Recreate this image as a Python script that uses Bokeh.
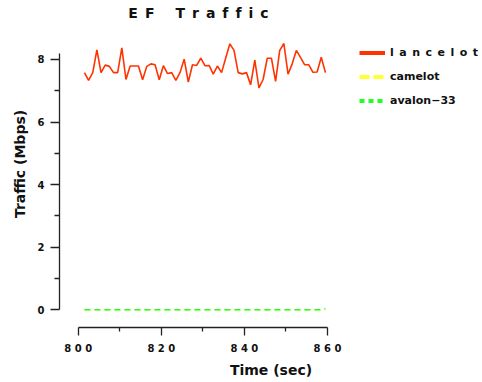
from bokeh.plotting import figure
from bokeh.models import (Range1d, FixedTicker, Legend, LegendItem,
                          ColumnDataSource, Label)
from bokeh.embed import file_html
from bokeh.resources import INLINE

time_sec = [801.5 + i for i in range(59)]
lancelot = [7.58, 7.33, 7.58, 8.31, 7.58, 7.82, 7.78, 7.58, 7.58, 8.37,
            7.36, 7.79, 7.79, 7.79, 7.35, 7.78, 7.86, 7.83, 7.35, 7.80,
            7.55, 7.58, 7.33, 7.58, 8.01, 7.28, 7.83, 7.81, 8.04, 7.80,
            7.81, 7.53, 7.79, 7.58, 8.05, 8.50, 8.29, 7.58, 7.54, 7.58,
            7.19, 7.98, 7.09, 7.36, 8.04, 8.04, 7.30, 8.29, 8.51, 7.53,
            7.86, 8.29, 8.07, 7.83, 7.83, 7.59, 7.60, 8.07, 7.58]
camelot = [0.0] * 59
avalon = [0.0] * 58 + [0.03]
EN = "\u2002"
title_text = EN.join("EF") + EN * 3 + EN.join("Traffic")
series_names = [EN.join("lancelot"), "camelot", "avalon\u221233"]
x_ticks = [800, 820, 840, 860]
x_minor = [810, 830, 850]
x_tick_labels = ["8 0 0", "8 2 0", "8 4 0", "8 6 0"]
y_ticks = [0, 2, 4, 6, 8]
y_minor = [1, 3, 5, 7]

FONT = "DejaVu Sans"
RED = "#FF3300"
YELLOW = "#FFFF33"
GREEN = "#22FF22"

p = figure(width=482, height=382, output_backend="svg", toolbar_location=None,
           x_range=Range1d(795.5, 897.3), y_range=Range1d(-0.566, 9.885),
           min_border_left=59, min_border_right=0, min_border_top=0,
           min_border_bottom=55)
p.outline_line_color = None
p.grid.visible = False
p.background_fill_color = "white"
p.title.text = ""

# title, centred over the 800-860 span of the x axis
p.add_layout(Label(x=828.95, y=9.47, text=title_text, text_align="center",
                   text_baseline="middle", text_font=FONT, text_font_size="14px",
                   text_font_style="bold", text_color="#111111"))

src = ColumnDataSource(dict(t=time_sec, l=lancelot, c=camelot, a=avalon))
p.line("t", "c", source=src, line_color=YELLOW, line_width=1.5, line_dash="6 4")
p.line("t", "a", source=src, line_color=GREEN, line_width=1.5, line_dash="6 4")
p.line("t", "l", source=src, line_color=RED, line_width=1.6)

# legend proxies (no visible data)
nan = float("nan")
def proxy():
    return ColumnDataSource(dict(x=[nan, nan], y=[nan, nan]))
r1 = p.line("x", "y", source=proxy(), line_color=RED, line_width=4)
r2 = p.line("x", "y", source=proxy(), line_color=YELLOW, line_width=4, line_dash="10 4")
r3 = p.line("x", "y", source=proxy(), line_color=GREEN, line_width=4, line_dash="5 4")
legend = Legend(items=[LegendItem(label=series_names[0], renderers=[r1]),
                       LegendItem(label=series_names[1], renderers=[r2]),
                       LegendItem(label=series_names[2], renderers=[r3])],
                location=(300, 216), glyph_width=26, glyph_height=21, spacing=3,
                label_standoff=5, padding=0, margin=0, border_line_color=None,
                background_fill_alpha=0, label_text_font=FONT,
                label_text_font_size="11px", label_text_font_style="bold",
                label_text_color="#111111")
p.add_layout(legend)

xa = p.xaxis[0]
xa.ticker = FixedTicker(ticks=x_ticks, minor_ticks=x_minor)
xa.major_label_overrides = {t: s for t, s in zip(x_ticks, x_tick_labels)}
xa.bounds = (800, 860)
xa.axis_label = "Time (sec)"
ya = p.yaxis[0]
ya.ticker = FixedTicker(ticks=y_ticks, minor_ticks=y_minor)
ya.bounds = (0, 8.2)
ya.axis_label = "Traffic (Mbps)"

for ax in (xa, ya):
    ax.axis_line_color = "#222222"
    ax.axis_line_width = 1.3
    ax.major_tick_line_color = "#222222"
    ax.minor_tick_line_color = "#222222"
    ax.major_tick_line_width = 1.3
    ax.minor_tick_line_width = 1.3
    ax.major_tick_in = 0
    ax.minor_tick_in = 0
    ax.major_label_text_font = FONT
    ax.major_label_text_font_size = "10px"
    ax.major_label_text_font_style = "bold"
    ax.major_label_text_color = "#111111"
    ax.axis_label_text_font = FONT
    ax.axis_label_text_font_size = "14px"
    ax.axis_label_text_font_style = "bold"
    ax.axis_label_text_color = "#111111"

xa.major_tick_out = 8
xa.minor_tick_out = 4
xa.major_label_standoff = 7
xa.axis_label_standoff = 5
ya.major_tick_out = 9
ya.minor_tick_out = 5
ya.major_label_standoff = 6
ya.axis_label_standoff = 7

open("out.html", "w").write(file_html(p, INLINE))
